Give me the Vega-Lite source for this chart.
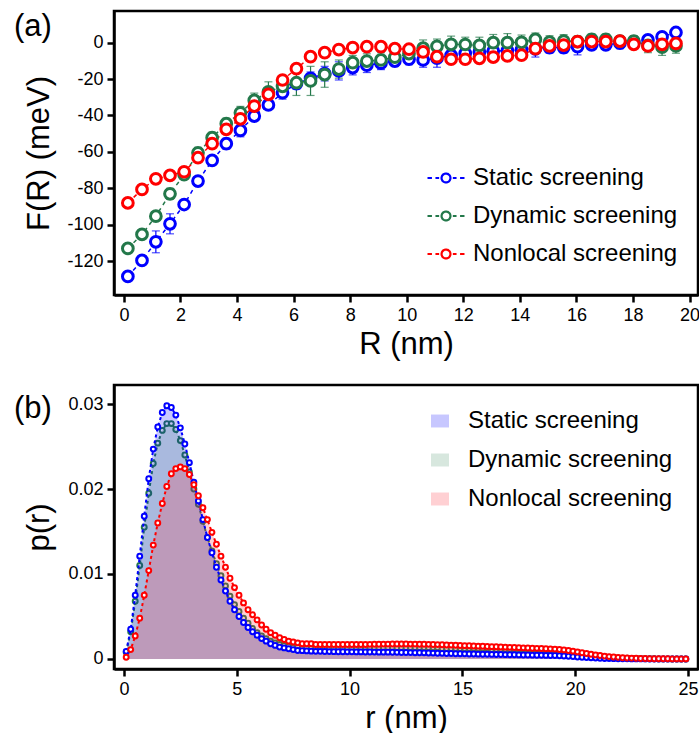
{
"$schema": "https://vega.github.io/schema/vega-lite/v6.json",
"autosize": {"type": "pad"},
"padding": {"left": 12, "top": 9, "right": 0, "bottom": 0},
"spacing": 22,
"resolve": {"scale": {"stroke": "independent", "fill": "independent", "color": "independent"}, "legend": {"stroke": "independent", "fill": "independent", "color": "independent"}},
"datasets": {
"fa": [
{"R":0.14,"s":"Static screening","F":-128.4,"e":1.5},{"R":0.64,"s":"Static screening","F":-119.6,"e":2},{"R":1.13,"s":"Static screening","F":-109.4,"e":6},{"R":1.63,"s":"Static screening","F":-99.5,"e":5.5},{"R":2.13,"s":"Static screening","F":-88.9,"e":2},{"R":2.62,"s":"Static screening","F":-76.0,"e":2},{"R":3.12,"s":"Static screening","F":-64.7,"e":2.5},{"R":3.62,"s":"Static screening","F":-55.5,"e":3},{"R":4.12,"s":"Static screening","F":-48.2,"e":3.5},{"R":4.61,"s":"Static screening","F":-40.3,"e":2.5},
{"R":5.11,"s":"Static screening","F":-34.2,"e":2.5},{"R":5.61,"s":"Static screening","F":-27.5,"e":3.5},{"R":6.10,"s":"Static screening","F":-22.5,"e":3},{"R":6.60,"s":"Static screening","F":-19.6,"e":3.5},{"R":7.10,"s":"Static screening","F":-17.0,"e":4},{"R":7.60,"s":"Static screening","F":-15.5,"e":5},{"R":8.09,"s":"Static screening","F":-13.7,"e":4},{"R":8.59,"s":"Static screening","F":-12.4,"e":4},{"R":9.09,"s":"Static screening","F":-11.3,"e":3.5},{"R":9.58,"s":"Static screening","F":-10.1,"e":3},
{"R":10.08,"s":"Static screening","F":-9.1,"e":3},{"R":10.58,"s":"Static screening","F":-9.5,"e":4},{"R":11.07,"s":"Static screening","F":-8.5,"e":5},{"R":11.57,"s":"Static screening","F":-7.0,"e":3},{"R":12.07,"s":"Static screening","F":-5.8,"e":3},{"R":12.57,"s":"Static screening","F":-5.1,"e":3},{"R":13.06,"s":"Static screening","F":-4.6,"e":3},{"R":13.56,"s":"Static screening","F":-4.4,"e":3},{"R":14.06,"s":"Static screening","F":-3.8,"e":3},{"R":14.55,"s":"Static screening","F":-3.4,"e":4.5},
{"R":15.05,"s":"Static screening","F":-2.7,"e":3},{"R":15.55,"s":"Static screening","F":-2.7,"e":3},{"R":16.04,"s":"Static screening","F":-2.2,"e":4.5},{"R":16.54,"s":"Static screening","F":-1.2,"e":2.5},{"R":17.04,"s":"Static screening","F":-1.2,"e":2.5},{"R":17.54,"s":"Static screening","F":-0.3,"e":3},{"R":18.03,"s":"Static screening","F":0.3,"e":2.5},{"R":18.53,"s":"Static screening","F":1.5,"e":2},{"R":19.03,"s":"Static screening","F":3.2,"e":2},{"R":19.52,"s":"Static screening","F":5.6,"e":2},
{"R":0.14,"s":"Dynamic screening","F":-113.0,"e":2},{"R":0.64,"s":"Dynamic screening","F":-105.3,"e":2},{"R":1.13,"s":"Dynamic screening","F":-95.3,"e":2.5},{"R":1.63,"s":"Dynamic screening","F":-83.0,"e":3},{"R":2.13,"s":"Dynamic screening","F":-72.5,"e":2},{"R":2.62,"s":"Dynamic screening","F":-60.5,"e":3},{"R":3.12,"s":"Dynamic screening","F":-52.2,"e":3},{"R":3.62,"s":"Dynamic screening","F":-44.5,"e":3},{"R":4.12,"s":"Dynamic screening","F":-38.5,"e":3.5},{"R":4.61,"s":"Dynamic screening","F":-31.7,"e":4},
{"R":5.11,"s":"Dynamic screening","F":-27.0,"e":5.5},{"R":5.61,"s":"Dynamic screening","F":-24.0,"e":6},{"R":6.10,"s":"Dynamic screening","F":-22.0,"e":7},{"R":6.60,"s":"Dynamic screening","F":-21.0,"e":8},{"R":7.10,"s":"Dynamic screening","F":-17.5,"e":7},{"R":7.60,"s":"Dynamic screening","F":-14.5,"e":5},{"R":8.09,"s":"Dynamic screening","F":-11.0,"e":4},{"R":8.59,"s":"Dynamic screening","F":-10.1,"e":4},{"R":9.09,"s":"Dynamic screening","F":-9.5,"e":4},{"R":9.58,"s":"Dynamic screening","F":-8.0,"e":4},
{"R":10.08,"s":"Dynamic screening","F":-6.0,"e":4.5},{"R":10.58,"s":"Dynamic screening","F":-3.0,"e":4.5},{"R":11.07,"s":"Dynamic screening","F":-2.0,"e":4},{"R":11.57,"s":"Dynamic screening","F":-0.9,"e":4.5},{"R":12.07,"s":"Dynamic screening","F":-1.0,"e":4},{"R":12.57,"s":"Dynamic screening","F":-1.5,"e":4.5},{"R":13.06,"s":"Dynamic screening","F":0.0,"e":4.5},{"R":13.56,"s":"Dynamic screening","F":0.0,"e":5},{"R":14.06,"s":"Dynamic screening","F":0.2,"e":4},{"R":14.55,"s":"Dynamic screening","F":1.8,"e":3.5},
{"R":15.05,"s":"Dynamic screening","F":0.3,"e":3.5},{"R":15.55,"s":"Dynamic screening","F":0.9,"e":3.5},{"R":16.04,"s":"Dynamic screening","F":0.6,"e":3},{"R":16.54,"s":"Dynamic screening","F":1.8,"e":3},{"R":17.04,"s":"Dynamic screening","F":1.8,"e":3},{"R":17.54,"s":"Dynamic screening","F":0.9,"e":3},{"R":18.03,"s":"Dynamic screening","F":0.9,"e":3},{"R":18.53,"s":"Dynamic screening","F":-1.5,"e":4},{"R":19.03,"s":"Dynamic screening","F":-2.5,"e":4.5},{"R":19.52,"s":"Dynamic screening","F":-1.8,"e":4},
{"R":0.14,"s":"Nonlocal screening","F":-88.0,"e":0},{"R":0.64,"s":"Nonlocal screening","F":-80.6,"e":0},{"R":1.13,"s":"Nonlocal screening","F":-74.8,"e":0},{"R":1.63,"s":"Nonlocal screening","F":-72.9,"e":0},{"R":2.13,"s":"Nonlocal screening","F":-70.9,"e":0},{"R":2.62,"s":"Nonlocal screening","F":-63.2,"e":0},{"R":3.12,"s":"Nonlocal screening","F":-55.5,"e":0},{"R":3.62,"s":"Nonlocal screening","F":-47.6,"e":0},{"R":4.12,"s":"Nonlocal screening","F":-41.8,"e":0},{"R":4.61,"s":"Nonlocal screening","F":-34.8,"e":0},
{"R":5.11,"s":"Nonlocal screening","F":-28.4,"e":0},{"R":5.61,"s":"Nonlocal screening","F":-20.5,"e":0},{"R":6.10,"s":"Nonlocal screening","F":-14.3,"e":0},{"R":6.60,"s":"Nonlocal screening","F":-7.7,"e":0},{"R":7.10,"s":"Nonlocal screening","F":-5.5,"e":0},{"R":7.60,"s":"Nonlocal screening","F":-3.8,"e":0},{"R":8.09,"s":"Nonlocal screening","F":-2.7,"e":0},{"R":8.59,"s":"Nonlocal screening","F":-2.2,"e":0},{"R":9.09,"s":"Nonlocal screening","F":-2.2,"e":0},{"R":9.58,"s":"Nonlocal screening","F":-3.3,"e":0},
{"R":10.08,"s":"Nonlocal screening","F":-3.6,"e":0},{"R":10.58,"s":"Nonlocal screening","F":-5.1,"e":0},{"R":11.07,"s":"Nonlocal screening","F":-7.7,"e":0},{"R":11.57,"s":"Nonlocal screening","F":-9.1,"e":0},{"R":12.07,"s":"Nonlocal screening","F":-9.1,"e":0},{"R":12.57,"s":"Nonlocal screening","F":-8.6,"e":0},{"R":13.06,"s":"Nonlocal screening","F":-7.9,"e":0},{"R":13.56,"s":"Nonlocal screening","F":-7.3,"e":0},{"R":14.06,"s":"Nonlocal screening","F":-6.9,"e":0},{"R":14.55,"s":"Nonlocal screening","F":-3.3,"e":0},
{"R":15.05,"s":"Nonlocal screening","F":-1.8,"e":0},{"R":15.55,"s":"Nonlocal screening","F":-1.3,"e":0},{"R":16.04,"s":"Nonlocal screening","F":0.6,"e":0},{"R":16.54,"s":"Nonlocal screening","F":0.6,"e":0},{"R":17.04,"s":"Nonlocal screening","F":0.6,"e":0},{"R":17.54,"s":"Nonlocal screening","F":0.9,"e":0},{"R":18.03,"s":"Nonlocal screening","F":-0.9,"e":0},{"R":18.53,"s":"Nonlocal screening","F":-1.8,"e":0},{"R":19.03,"s":"Nonlocal screening","F":-0.9,"e":0},{"R":19.52,"s":"Nonlocal screening","F":-0.4,"e":0}
],
"pb": [
{"r":0.1,"Static screening":0.0009,"Dynamic screening":0.0008,"Nonlocal screening":0.0002},
{"r":0.3,"Static screening":0.0035,"Dynamic screening":0.0032,"Nonlocal screening":0.0011},
{"r":0.5,"Static screening":0.0075,"Dynamic screening":0.0068,"Nonlocal screening":0.0027},
{"r":0.7,"Static screening":0.0121,"Dynamic screening":0.0110,"Nonlocal screening":0.0048},
{"r":0.9,"Static screening":0.0168,"Dynamic screening":0.0155,"Nonlocal screening":0.0075},
{"r":1.1,"Static screening":0.0212,"Dynamic screening":0.0195,"Nonlocal screening":0.0104},
{"r":1.3,"Static screening":0.0247,"Dynamic screening":0.0230,"Nonlocal screening":0.0134},
{"r":1.5,"Static screening":0.0273,"Dynamic screening":0.0254,"Nonlocal screening":0.0160},
{"r":1.7,"Static screening":0.0290,"Dynamic screening":0.0269,"Nonlocal screening":0.0183},
{"r":1.9,"Static screening":0.0298,"Dynamic screening":0.0277,"Nonlocal screening":0.0203},
{"r":2.1,"Static screening":0.0296,"Dynamic screening":0.0277,"Nonlocal screening":0.0218},
{"r":2.3,"Static screening":0.0287,"Dynamic screening":0.0270,"Nonlocal screening":0.0224},
{"r":2.5,"Static screening":0.0272,"Dynamic screening":0.0257,"Nonlocal screening":0.0226},
{"r":2.7,"Static screening":0.0253,"Dynamic screening":0.0240,"Nonlocal screening":0.0224},
{"r":2.9,"Static screening":0.0231,"Dynamic screening":0.0220,"Nonlocal screening":0.0217},
{"r":3.1,"Static screening":0.0208,"Dynamic screening":0.0200,"Nonlocal screening":0.0205},
{"r":3.3,"Static screening":0.0186,"Dynamic screening":0.0182,"Nonlocal screening":0.0192},
{"r":3.5,"Static screening":0.0164,"Dynamic screening":0.0162,"Nonlocal screening":0.0178},
{"r":3.7,"Static screening":0.0143,"Dynamic screening":0.0143,"Nonlocal screening":0.0164},
{"r":3.9,"Static screening":0.0125,"Dynamic screening":0.0127,"Nonlocal screening":0.0149},
{"r":4.1,"Static screening":0.0108,"Dynamic screening":0.0112,"Nonlocal screening":0.0135},
{"r":4.3,"Static screening":0.0093,"Dynamic screening":0.0098,"Nonlocal screening":0.0121},
{"r":4.5,"Static screening":0.0080,"Dynamic screening":0.0086,"Nonlocal screening":0.0108},
{"r":4.7,"Static screening":0.0068,"Dynamic screening":0.0074,"Nonlocal screening":0.0095},
{"r":4.9,"Static screening":0.0058,"Dynamic screening":0.0064,"Nonlocal screening":0.0084},
{"r":5.1,"Static screening":0.0050,"Dynamic screening":0.0056,"Nonlocal screening":0.0075},
{"r":5.3,"Static screening":0.0043,"Dynamic screening":0.0048,"Nonlocal screening":0.0066},
{"r":5.5,"Static screening":0.0037,"Dynamic screening":0.0042,"Nonlocal screening":0.0058},
{"r":5.7,"Static screening":0.0032,"Dynamic screening":0.0036,"Nonlocal screening":0.0052},
{"r":5.9,"Static screening":0.0028,"Dynamic screening":0.0031,"Nonlocal screening":0.0046},
{"r":6.1,"Static screening":0.0024,"Dynamic screening":0.0027,"Nonlocal screening":0.0040},
{"r":6.3,"Static screening":0.0021,"Dynamic screening":0.0024,"Nonlocal screening":0.0035},
{"r":6.5,"Static screening":0.0018,"Dynamic screening":0.0021,"Nonlocal screening":0.0031},
{"r":6.7,"Static screening":0.0016,"Dynamic screening":0.0019,"Nonlocal screening":0.0028},
{"r":6.9,"Static screening":0.0014,"Dynamic screening":0.0017,"Nonlocal screening":0.0025},
{"r":7.1,"Static screening":0.0013,"Dynamic screening":0.0016,"Nonlocal screening":0.0023},
{"r":7.3,"Static screening":0.0012,"Dynamic screening":0.0015,"Nonlocal screening":0.0021},
{"r":7.5,"Static screening":0.0011,"Dynamic screening":0.0014,"Nonlocal screening":0.0020},
{"r":7.7,"Static screening":0.0010,"Dynamic screening":0.0014,"Nonlocal screening":0.0019},
{"r":7.9,"Static screening":0.00098,"Dynamic screening":0.0013,"Nonlocal screening":0.0018},
{"r":8.1,"Static screening":0.00095,"Dynamic screening":0.0013,"Nonlocal screening":0.0018},
{"r":8.3,"Static screening":0.00092,"Dynamic screening":0.0013,"Nonlocal screening":0.0018},
{"r":8.5,"Static screening":0.0009,"Dynamic screening":0.0013,"Nonlocal screening":0.0017},
{"r":8.7,"Static screening":0.0009,"Dynamic screening":0.0013,"Nonlocal screening":0.0017},
{"r":8.9,"Static screening":0.00088,"Dynamic screening":0.0013,"Nonlocal screening":0.0017},
{"r":9.1,"Static screening":0.00087,"Dynamic screening":0.0013,"Nonlocal screening":0.0017},
{"r":9.3,"Static screening":0.00086,"Dynamic screening":0.0013,"Nonlocal screening":0.0017},
{"r":9.5,"Static screening":0.00085,"Dynamic screening":0.0013,"Nonlocal screening":0.0017},
{"r":9.7,"Static screening":0.00085,"Dynamic screening":0.0013,"Nonlocal screening":0.0017},
{"r":9.9,"Static screening":0.00084,"Dynamic screening":0.0013,"Nonlocal screening":0.0017},
{"r":10.1,"Static screening":0.00084,"Dynamic screening":0.0013,"Nonlocal screening":0.0017},
{"r":10.3,"Static screening":0.00083,"Dynamic screening":0.0013,"Nonlocal screening":0.0017},
{"r":10.5,"Static screening":0.00083,"Dynamic screening":0.0013,"Nonlocal screening":0.0017},
{"r":10.7,"Static screening":0.00082,"Dynamic screening":0.0013,"Nonlocal screening":0.0017},
{"r":10.9,"Static screening":0.00082,"Dynamic screening":0.0013,"Nonlocal screening":0.00172},
{"r":11.1,"Static screening":0.00081,"Dynamic screening":0.0013,"Nonlocal screening":0.00173},
{"r":11.3,"Static screening":0.0008,"Dynamic screening":0.0013,"Nonlocal screening":0.00174},
{"r":11.5,"Static screening":0.0008,"Dynamic screening":0.0013,"Nonlocal screening":0.00175},
{"r":11.7,"Static screening":0.0008,"Dynamic screening":0.0013,"Nonlocal screening":0.00175},
{"r":11.9,"Static screening":0.00079,"Dynamic screening":0.0013,"Nonlocal screening":0.00176},
{"r":12.1,"Static screening":0.00078,"Dynamic screening":0.0013,"Nonlocal screening":0.00176},
{"r":12.3,"Static screening":0.00077,"Dynamic screening":0.0013,"Nonlocal screening":0.00176},
{"r":12.5,"Static screening":0.00076,"Dynamic screening":0.0013,"Nonlocal screening":0.00176},
{"r":12.7,"Static screening":0.00075,"Dynamic screening":0.0013,"Nonlocal screening":0.00175},
{"r":12.9,"Static screening":0.00074,"Dynamic screening":0.0013,"Nonlocal screening":0.00175},
{"r":13.1,"Static screening":0.00073,"Dynamic screening":0.0013,"Nonlocal screening":0.00174},
{"r":13.3,"Static screening":0.00072,"Dynamic screening":0.0013,"Nonlocal screening":0.00173},
{"r":13.5,"Static screening":0.0007,"Dynamic screening":0.0013,"Nonlocal screening":0.00172},
{"r":13.7,"Static screening":0.00069,"Dynamic screening":0.0013,"Nonlocal screening":0.0017},
{"r":13.9,"Static screening":0.00068,"Dynamic screening":0.0013,"Nonlocal screening":0.00169},
{"r":14.1,"Static screening":0.00066,"Dynamic screening":0.0012,"Nonlocal screening":0.00167},
{"r":14.3,"Static screening":0.00065,"Dynamic screening":0.0012,"Nonlocal screening":0.00165},
{"r":14.5,"Static screening":0.00064,"Dynamic screening":0.0012,"Nonlocal screening":0.00163},
{"r":14.7,"Static screening":0.00062,"Dynamic screening":0.0012,"Nonlocal screening":0.00161},
{"r":14.9,"Static screening":0.00061,"Dynamic screening":0.0012,"Nonlocal screening":0.00159},
{"r":15.1,"Static screening":0.0006,"Dynamic screening":0.0012,"Nonlocal screening":0.00157},
{"r":15.3,"Static screening":0.00059,"Dynamic screening":0.0012,"Nonlocal screening":0.00155},
{"r":15.5,"Static screening":0.00058,"Dynamic screening":0.0012,"Nonlocal screening":0.00153},
{"r":15.7,"Static screening":0.00057,"Dynamic screening":0.0012,"Nonlocal screening":0.00151},
{"r":15.9,"Static screening":0.00056,"Dynamic screening":0.0012,"Nonlocal screening":0.00149},
{"r":16.1,"Static screening":0.00055,"Dynamic screening":0.0012,"Nonlocal screening":0.00147},
{"r":16.3,"Static screening":0.00054,"Dynamic screening":0.0011,"Nonlocal screening":0.00145},
{"r":16.5,"Static screening":0.00053,"Dynamic screening":0.0011,"Nonlocal screening":0.00143},
{"r":16.7,"Static screening":0.00052,"Dynamic screening":0.0011,"Nonlocal screening":0.00141},
{"r":16.9,"Static screening":0.00051,"Dynamic screening":0.0011,"Nonlocal screening":0.00139},
{"r":17.1,"Static screening":0.0005,"Dynamic screening":0.0011,"Nonlocal screening":0.00137},
{"r":17.3,"Static screening":0.00049,"Dynamic screening":0.0011,"Nonlocal screening":0.00135},
{"r":17.5,"Static screening":0.00048,"Dynamic screening":0.0011,"Nonlocal screening":0.00133},
{"r":17.7,"Static screening":0.00047,"Dynamic screening":0.0011,"Nonlocal screening":0.00131},
{"r":17.9,"Static screening":0.00046,"Dynamic screening":0.0011,"Nonlocal screening":0.00129},
{"r":18.1,"Static screening":0.00045,"Dynamic screening":0.0011,"Nonlocal screening":0.00127},
{"r":18.3,"Static screening":0.00044,"Dynamic screening":0.0011,"Nonlocal screening":0.00125},
{"r":18.5,"Static screening":0.00043,"Dynamic screening":0.001,"Nonlocal screening":0.00123},
{"r":18.7,"Static screening":0.00042,"Dynamic screening":0.001,"Nonlocal screening":0.00121},
{"r":18.9,"Static screening":0.00041,"Dynamic screening":0.001,"Nonlocal screening":0.00119},
{"r":19.1,"Static screening":0.0004,"Dynamic screening":0.001,"Nonlocal screening":0.00116},
{"r":19.3,"Static screening":0.00038,"Dynamic screening":0.00095,"Nonlocal screening":0.00112},
{"r":19.5,"Static screening":0.00035,"Dynamic screening":0.0009,"Nonlocal screening":0.00107},
{"r":19.7,"Static screening":0.00032,"Dynamic screening":0.00085,"Nonlocal screening":0.001},
{"r":19.9,"Static screening":0.00028,"Dynamic screening":0.00078,"Nonlocal screening":0.00092},
{"r":20.1,"Static screening":0.00024,"Dynamic screening":0.0007,"Nonlocal screening":0.00083},
{"r":20.3,"Static screening":0.0002,"Dynamic screening":0.00062,"Nonlocal screening":0.00074},
{"r":20.5,"Static screening":0.00016,"Dynamic screening":0.00054,"Nonlocal screening":0.00065},
{"r":20.7,"Static screening":0.00013,"Dynamic screening":0.00046,"Nonlocal screening":0.00056},
{"r":20.9,"Static screening":0.0001,"Dynamic screening":0.00039,"Nonlocal screening":0.00048},
{"r":21.1,"Static screening":0.00008,"Dynamic screening":0.00032,"Nonlocal screening":0.00041},
{"r":21.3,"Static screening":0.00006,"Dynamic screening":0.00026,"Nonlocal screening":0.00034},
{"r":21.5,"Static screening":0.00005,"Dynamic screening":0.00021,"Nonlocal screening":0.00028},
{"r":21.7,"Static screening":0.00004,"Dynamic screening":0.00017,"Nonlocal screening":0.00023},
{"r":21.9,"Static screening":0.00003,"Dynamic screening":0.00013,"Nonlocal screening":0.00019},
{"r":22.1,"Static screening":0.00002,"Dynamic screening":0.0001,"Nonlocal screening":0.00015},
{"r":22.3,"Static screening":0.00002,"Dynamic screening":0.00008,"Nonlocal screening":0.00012},
{"r":22.5,"Static screening":0.00001,"Dynamic screening":0.00006,"Nonlocal screening":0.0001},
{"r":22.7,"Static screening":0.00001,"Dynamic screening":0.00005,"Nonlocal screening":0.00008},
{"r":22.9,"Static screening":0.00001,"Dynamic screening":0.00004,"Nonlocal screening":0.00006},
{"r":23.1,"Static screening":0.00001,"Dynamic screening":0.00003,"Nonlocal screening":0.00005},
{"r":23.3,"Static screening":0,"Dynamic screening":0.00002,"Nonlocal screening":0.00004},
{"r":23.5,"Static screening":0,"Dynamic screening":0.00002,"Nonlocal screening":0.00003},
{"r":23.7,"Static screening":0,"Dynamic screening":0.00001,"Nonlocal screening":0.00003},
{"r":23.9,"Static screening":0,"Dynamic screening":0.00001,"Nonlocal screening":0.00002},
{"r":24.1,"Static screening":0,"Dynamic screening":0.00001,"Nonlocal screening":0.00002},
{"r":24.3,"Static screening":0,"Dynamic screening":0,"Nonlocal screening":0.00001},
{"r":24.5,"Static screening":0,"Dynamic screening":0,"Nonlocal screening":0.00001},
{"r":24.7,"Static screening":0,"Dynamic screening":0,"Nonlocal screening":0.00001},
{"r":24.9,"Static screening":0,"Dynamic screening":0,"Nonlocal screening":0.00001}
]
},
"vconcat": [
{
"width": 584, "height": 284,
"title": {"text": "(a)", "dx": -100, "dy": 36},
"data": {"name": "fa"},
"encoding": {
"x": {"field": "R", "type": "quantitative", "scale": {"domain": [-0.35, 20.3], "nice": false, "zero": false}, "axis": {"values": [0,2,4,6,8,10,12,14,16,18,20], "title": "R (nm)"}},
"y": {"field": "F", "type": "quantitative", "scale": {"domain": [-138.6, 17.4], "nice": false, "zero": false}, "axis": {"values": [-120,-100,-80,-60,-40,-20,0], "title": "F(R) (meV)", "labelExpr": "'' + datum.value", "minExtent": 54, "maxExtent": 54}}
},
"layer": [
{"mark": {"type": "line", "strokeDash": [4, 4], "strokeWidth": 1.5},
 "encoding": {"stroke": {"field": "s", "type": "nominal", "scale": {"domain": ["Static screening","Dynamic screening","Nonlocal screening"], "range": ["#0000ff","#23784a","#ff0000"]},
  "legend": {"orient": "none", "legendX": 312, "legendY": 147, "title": null, "symbolType": "M-1,0H-0.76M-0.57,0H-0.37M0.37,0H0.57M0.76,0H1M0.24,0A0.24,0.24,0,1,1,-0.24,0A0.24,0.24,0,1,1,0.24,0", "symbolSize": 1369, "symbolStrokeWidth": 2.2, "symbolDash": [1, 0], "symbolFillColor": "white", "labelFontSize": 24, "labelLimit": 400, "rowPadding": 6, "labelOffset": 7,
   "encode": {"symbols": {"update": {"fill": {"value": "white"}, "strokeDash": {"value": [1, 0]}}}}}}}},
{"transform": [{"filter": "datum.e > 0"}],
 "mark": {"type": "errorbar", "ticks": true, "size": 8, "thickness": 1.2},
 "encoding": {"yError": {"field": "e"}, "color": {"field": "s", "type": "nominal", "scale": {"domain": ["Dynamic screening","Static screening","Nonlocal screening"], "range": ["#23784a","#0000ff","#ff0000"]}, "legend": null}}},
{"mark": {"type": "point", "shape": "circle", "filled": true, "fill": "white", "size": 115, "strokeWidth": 3, "opacity": 1},
 "encoding": {"stroke": {"field": "s", "type": "nominal"}}}
]
},
{
"width": 584, "height": 284,
"title": {"text": "(b)", "dx": -100, "dy": 44},
"data": {"name": "pb"},
"transform": [{"fold": ["Static screening","Dynamic screening","Nonlocal screening"], "as": ["s", "p"]}],
"encoding": {
"x": {"field": "r", "type": "quantitative", "scale": {"domain": [-0.44, 25.44], "nice": false, "zero": false}, "axis": {"values": [0,5,10,15,20,25], "title": "r (nm)"}},
"y": {"field": "p", "type": "quantitative", "scale": {"domain": [-0.00118, 0.03224], "nice": false, "zero": false}, "axis": {"values": [0,0.01,0.02,0.03], "title": "p(r)", "labelExpr": "datum.value == 0 ? '0' : format(datum.value, '.2f')", "minExtent": 54, "maxExtent": 54}}
},
"layer": [
{"transform": [{"filter": "datum.s == 'Dynamic screening'"}],
 "mark": {"type": "line", "strokeDash": [3, 3], "strokeWidth": 2},
 "encoding": {"stroke": {"field": "s", "type": "nominal", "scale": {"domain": ["Dynamic screening","Static screening","Nonlocal screening"], "range": ["#23784a","#0000ff","#ff0000"]}, "legend": null}}},
{"transform": [{"filter": "datum.s == 'Dynamic screening'"}],
 "mark": {"type": "point", "shape": "circle", "filled": true, "fill": "white", "size": 24, "strokeWidth": 2, "opacity": 1},
 "encoding": {"stroke": {"field": "s", "type": "nominal", "legend": null}}},
{"mark": {"type": "area"},
 "encoding": {"y": {"field": "p", "type": "quantitative", "stack": null}, "y2": {"datum": 0},
  "fill": {"field": "s", "type": "nominal", "scale": {"domain": ["Static screening","Dynamic screening","Nonlocal screening"], "range": ["rgba(0,0,255,0.22)","rgba(35,120,70,0.18)","rgba(255,60,70,0.24)"]},
   "legend": {"orient": "none", "legendX": 314, "legendY": 24, "title": null, "symbolType": "M-1,-0.72H1V0.72H-1Z", "symbolSize": 324, "symbolStrokeWidth": 0, "labelFontSize": 24, "labelLimit": 400, "rowPadding": 15, "labelOffset": 16}}}},
{"transform": [{"filter": "datum.s != 'Dynamic screening'"}],
 "mark": {"type": "line", "strokeDash": [3, 3], "strokeWidth": 2},
 "encoding": {"stroke": {"field": "s", "type": "nominal", "legend": null}}},
{"transform": [{"filter": "datum.s != 'Dynamic screening'"}],
 "mark": {"type": "point", "shape": "circle", "filled": true, "fill": "white", "size": 24, "strokeWidth": 2, "opacity": 1},
 "encoding": {"stroke": {"field": "s", "type": "nominal", "legend": null}}}
]
}
],
"config": {
"font": "Liberation Sans",
"view": {"stroke": "black", "strokeWidth": 2.5},
"axis": {"domainColor": "black", "domainWidth": 2.5, "tickColor": "black", "tickWidth": 2.5, "tickSize": 7, "labelFontSize": 18, "labelColor": "black", "labelPadding": 4, "labelFlush": false, "labelOverlap": false, "titleFontSize": 31, "titleFontWeight": "normal", "titleColor": "black", "titlePadding": 5, "grid": false},
"legend": {"labelColor": "black", "labelFont": "Liberation Sans"},
"title": {"fontSize": 31, "fontWeight": "normal", "anchor": "start", "frame": "group", "color": "black"}
}
}
